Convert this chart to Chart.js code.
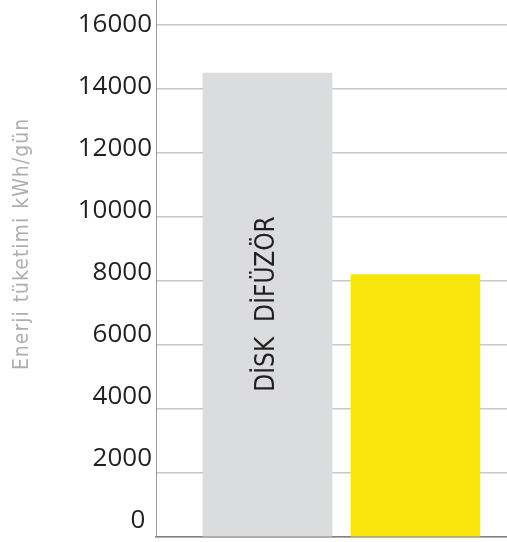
<!DOCTYPE html>
<html>
<head>
<meta charset="utf-8">
<script src="https://cdn.jsdelivr.net/npm/chart.js@4"></script>
<style>
  html, body { margin: 0; padding: 0; background: #fff; }
  #wrap { width: 507px; height: 542px; }
</style>
</head>
<body>
<div id="wrap"><canvas id="chart"></canvas></div>
<script>
  // Daily energy use, kWh/day
  const categories = ['DİSK DİFÜZÖR', ''];
  const values = [14500, 8200];
  const yTicks = [0, 2000, 4000, 6000, 8000, 10000, 12000, 14000, 16000];
  const yTitle = 'Enerji tüketimi kWh/gün';

  const barColors = ['#dbdcde', '#f8e50b'];
  const textColor = '#231f20';
  const narrowFont = '"Liberation Sans Narrow", "DejaVu Sans Condensed", sans-serif';

  // vertical text: axis title on the left, category name inside the bar
  const sideText = {
    id: 'sideText',
    afterDatasetsDraw(chart) {
      const ctx = chart.ctx;

      ctx.save();
      ctx.translate(23, 244);
      ctx.rotate(-Math.PI / 2);
      ctx.font = '21px ' + narrowFont;
      ctx.fillStyle = '#adafb2';
      ctx.textAlign = 'center';
      ctx.textBaseline = 'middle';
      if ('letterSpacing' in ctx) ctx.letterSpacing = '1px';
      if ('wordSpacing' in ctx) ctx.wordSpacing = '1px';
      ctx.fillText(yTitle, 0, 0);
      ctx.restore();

      const meta = chart.getDatasetMeta(0);
      meta.data.forEach((bar, i) => {
        if (!categories[i]) return;
        ctx.save();
        ctx.translate(bar.x, 304);
        ctx.rotate(-Math.PI / 2);
        ctx.font = '26px ' + narrowFont;
        ctx.fillStyle = textColor;
        ctx.textAlign = 'center';
        ctx.textBaseline = 'middle';
        ctx.fillText(categories[i].replace(' ', '  '), 0, 0);
        ctx.restore();
      });
    }
  };

  new Chart(document.getElementById('chart'), {
    type: 'bar',
    data: {
      datasets: [{
        data: values.map((v, i) => ({ x: i + 1, y: v })),
        backgroundColor: barColors,
        borderWidth: 0,
        barThickness: 129
      }]
    },
    options: {
      responsive: true,
      maintainAspectRatio: false,
      animation: false,
      layout: { padding: { top: 0, right: 0, bottom: 5, left: 0 } },
      plugins: {
        legend: { display: false },
        tooltip: { enabled: false }
      },
      scales: {
        x: {
          type: 'linear',
          offset: false,
          min: 0.247,
          max: 2.618,
          ticks: { display: false },
          grid: { display: false, drawTicks: false },
          border: { display: true, color: '#808080', width: 1.5 }
        },
        // value axis: carries the bars, the grid and the axis line
        y: {
          position: 'left',
          weight: 0,
          min: 0,
          max: 16780,
          afterBuildTicks(scale) {
            scale.ticks = yTicks.map(v => ({ value: v }));
          },
          afterFit(scale) {
            scale.width = 0;
            scale.paddingTop = 0;
            scale.paddingBottom = 0;
          },
          ticks: { display: false },
          grid: { color: '#c8c8c8', lineWidth: 1.5, drawTicks: false },
          border: { display: true, color: '#9a9a9a', width: 1 }
        },
        // label axis: the printed numbers sit on a slightly tighter spacing
        yLabels: {
          type: 'linear',
          position: 'left',
          weight: 1,
          min: -516,
          max: 16806,
          afterBuildTicks(scale) {
            scale.ticks = yTicks.map(v => ({ value: v }));
          },
          afterFit(scale) {
            scale.width = 156;
            scale.paddingTop = 0;
            scale.paddingBottom = 0;
          },
          ticks: {
            padding: 4,
            color: textColor,
            font: { family: '"Open Sans", "Noto Sans", sans-serif', size: 26 },
            callback: v => (v === 0 ? '0 ' : String(v))
          },
          grid: { display: false, drawTicks: false },
          border: { display: false }
        }
      }
    },
    plugins: [sideText]
  });
</script>
</body>
</html>
